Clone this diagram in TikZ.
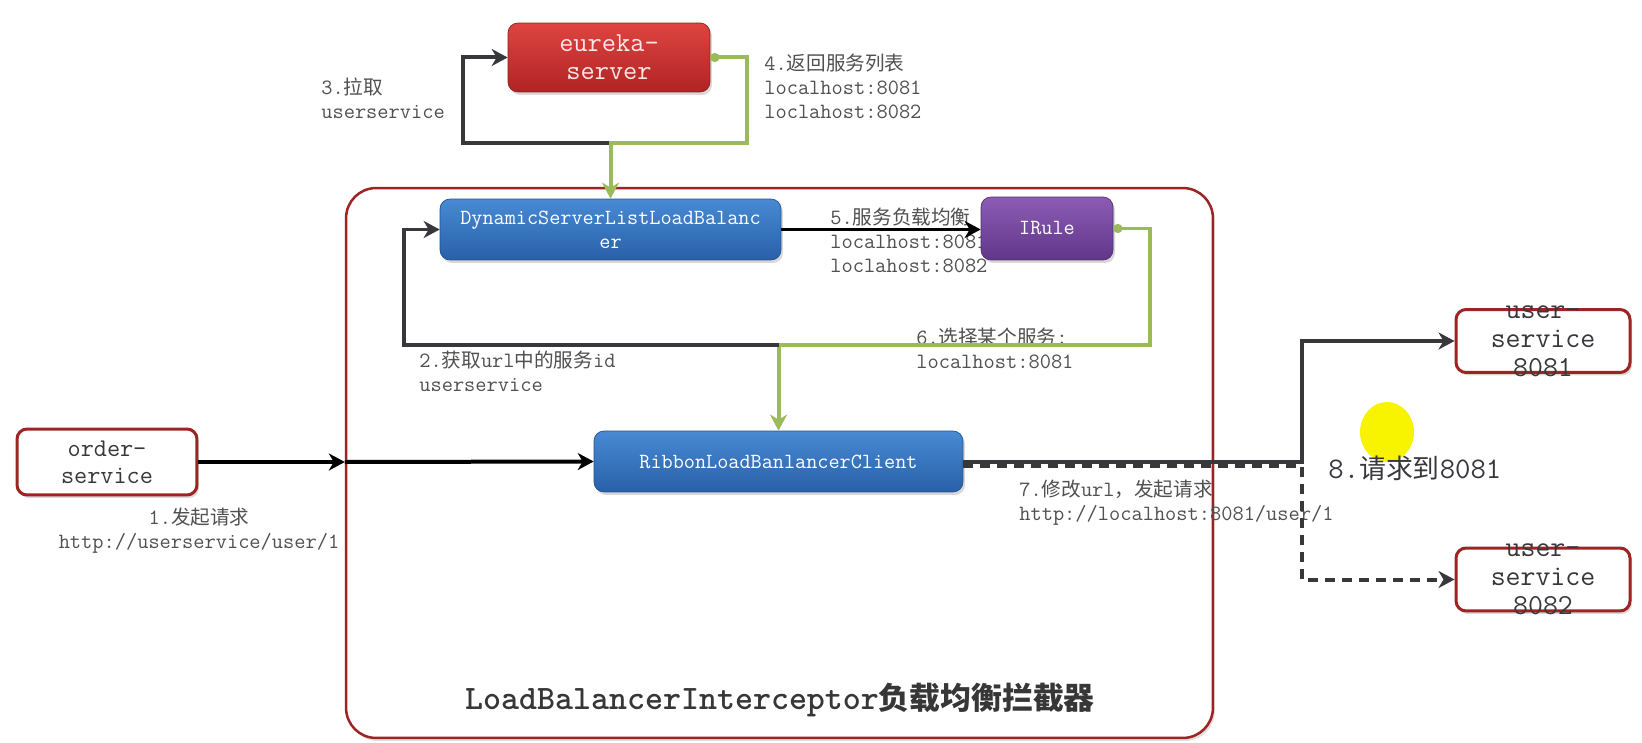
\documentclass[tikz,border=0pt]{standalone}
\usepackage{fontspec}
\renewcommand{\familydefault}{\ttdefault}
\newfontfamily\cjk[Scale=0.9]{Noto Sans CJK SC}
\newcommand{\zh}[1]{{\cjk #1}}
\usetikzlibrary{arrows.meta,shadows}
\definecolor{FrameRed}{RGB}{158,36,36}
\definecolor{EurekaTop}{RGB}{222,68,64}
\definecolor{EurekaBot}{RGB}{176,36,36}
\definecolor{BlueTop}{RGB}{72,138,212}
\definecolor{BlueBot}{RGB}{40,96,168}
\definecolor{PurpleTop}{RGB}{140,92,180}
\definecolor{PurpleBot}{RGB}{96,54,138}
\definecolor{LineGreen}{RGB}{155,187,89}
\definecolor{LineDark}{RGB}{55,55,60}
\definecolor{LabelGray}{RGB}{80,80,80}
\definecolor{TitleGray}{RGB}{55,55,55}
\definecolor{Highlight}{RGB}{248,244,0}
\tikzset{
  >=Stealth,
  box/.style={rounded corners=0.2cm,align=center,inner sep=0pt,font=\fontsize{12.3}{13.6}\selectfont,drop shadow={shadow xshift=0.04cm,shadow yshift=-0.06cm,opacity=0.3}},
  serverbox/.style={box,draw=EurekaBot!80!black,top color=EurekaTop,bottom color=EurekaBot,text=white!90!red,font=\fontsize{15.7}{16}\selectfont},
  lbbox/.style={box,draw=BlueBot!85!black,top color=BlueTop,bottom color=BlueBot,text=white},
  rulebox/.style={box,draw=PurpleBot!85!black,top color=PurpleTop,bottom color=PurpleBot,text=white},
  svcbox/.style={box,draw=FrameRed,line width=0.06cm,fill=white,text=LineDark},
  svctext/.style={align=center,inner sep=0pt,text=LineDark,font=\fontsize{16.5}{16.4}\selectfont},
  frame/.style={draw=FrameRed,line width=0.05cm,rounded corners=0.6cm,fill=white,drop shadow={shadow xshift=0.04cm,shadow yshift=-0.06cm,opacity=0.25}},
  title/.style={font=\bfseries\fontsize{19.5}{22}\selectfont,text=TitleGray,inner sep=0pt},
  note/.style={font=\fontsize{12.4}{13.6}\selectfont,text=LabelGray,align=left,inner sep=0pt,anchor=north west},
  call/.style={-{Stealth[length=0.32cm,width=0.34cm,inset=0.1cm]},line width=0.08cm,draw=black},
  pull/.style={call,draw=LineDark},
  back/.style={{Circle[length=0.18cm]}-{Stealth[length=0.32cm,width=0.34cm,inset=0.1cm]},line width=0.08cm,draw=LineGreen},
  spare/.style={pull,dash pattern=on 0.2cm off 0.14cm}
}
\begin{document}
\begin{tikzpicture}[x=0.02cm,y=-0.02cm]
  \useasboundingbox (0,0) rectangle (1642,743);
  \node[frame,minimum width=17.34cm,minimum height=11cm] (lbi) at (779.5,463) {};
  \node[title] (lbititle) at (780,700) {LoadBalancerInterceptor\zh{负载均衡拦截器}};
  \fill[Highlight] (1387,432) ellipse [x radius=0.54cm,y radius=0.6cm];
  % step labels
  \node[note] (l3) at (321,78) {3.\zh{拉取}\\userservice};
  \node[note] (l4) at (764,54) {4.\zh{返回服务列表}\\localhost:8081\\loclahost:8082};
  \node[note] (l5) at (830,208) {5.\zh{服务负载均衡}\\localhost:8081\\loclahost:8082};
  \node[note] (l2) at (419,351) {2.\zh{获取}url\zh{中的服务}id\\userservice};
  \node[note] (l6) at (916,328) {6.\zh{选择某个服务}:\\localhost:8081};
  \node[note] (l7) at (1019,480) {7.\zh{修改}url\zh{，发起请求}\\http://localhost:8081/user/1};
  \node[note,align=center,anchor=north] (l1) at (199,508) {1.\zh{发起请求}\\http://userservice/user/1};
  \node[note,anchor=west,text=LineDark,font=\fontsize{17}{19}\selectfont] (l8) at (1328,468) {8.\zh{请求到}8081};
  % boxes
  \node[serverbox,minimum width=4.04cm,minimum height=1.38cm] (eureka) at (609,57.5) {eureka-\\server};
  \node[lbbox,minimum width=6.82cm,minimum height=1.22cm] (dsl) at (610.5,229.5) {DynamicServerListLoadBalanc\\er};
  \node[rulebox,minimum width=2.64cm,minimum height=1.26cm] (irule) at (1047,228.5) {IRule};
  \node[lbbox,minimum width=7.38cm,minimum height=1.22cm] (ribbon) at (778.5,461.5) {RibbonLoadBanlancerClient};
  \node[svcbox,minimum width=3.6cm,minimum height=1.32cm,font=\fontsize{14.5}{15.3}\selectfont] (order) at (107,462) {order-\\service};
  \foreach \n/\y/\p in {us1/341/8081,us2/579.5/8082}{
    \node[svcbox,minimum width=3.48cm,minimum height=1.26cm] (\n) at (1543,\y) {};
    \node[svctext] (\n t) at (\n) {user-\\service\\\p};
  }
  % connectors
  \coordinate (top) at (dsl.north |- 0,143);
  \coordinate (pullc) at (463,143);
  \coordinate (mid) at (ribbon.north |- 0,345);
  \coordinate (getc) at (404,345);
  \coordinate (edge) at (lbi.west |- order.east);
  \coordinate (fork) at (1302,461.5);
  \draw[pull] (top) -- (pullc) |- (eureka.west);
  \draw[back] (eureka.east) -- ++(37,0) |- (top) -- (dsl.north);
  \draw[call] (dsl.east) -- (dsl.east -| irule.west);
  \draw[back] (irule.east) -- ++(37,0) |- (mid) -- (ribbon.north);
  \draw[pull] (mid) -- (getc) |- (dsl.west);
  \draw[call] (order.east) -- (edge);
  \draw[call] (edge) -- (ribbon.west);
  \draw[spare] ([yshift=-0.08cm]ribbon.east) -| (fork |- us2.west) -- (us2.west);
  \draw[pull] (ribbon.east) -- (fork) |- (us1.west);
\end{tikzpicture}
\end{document}
